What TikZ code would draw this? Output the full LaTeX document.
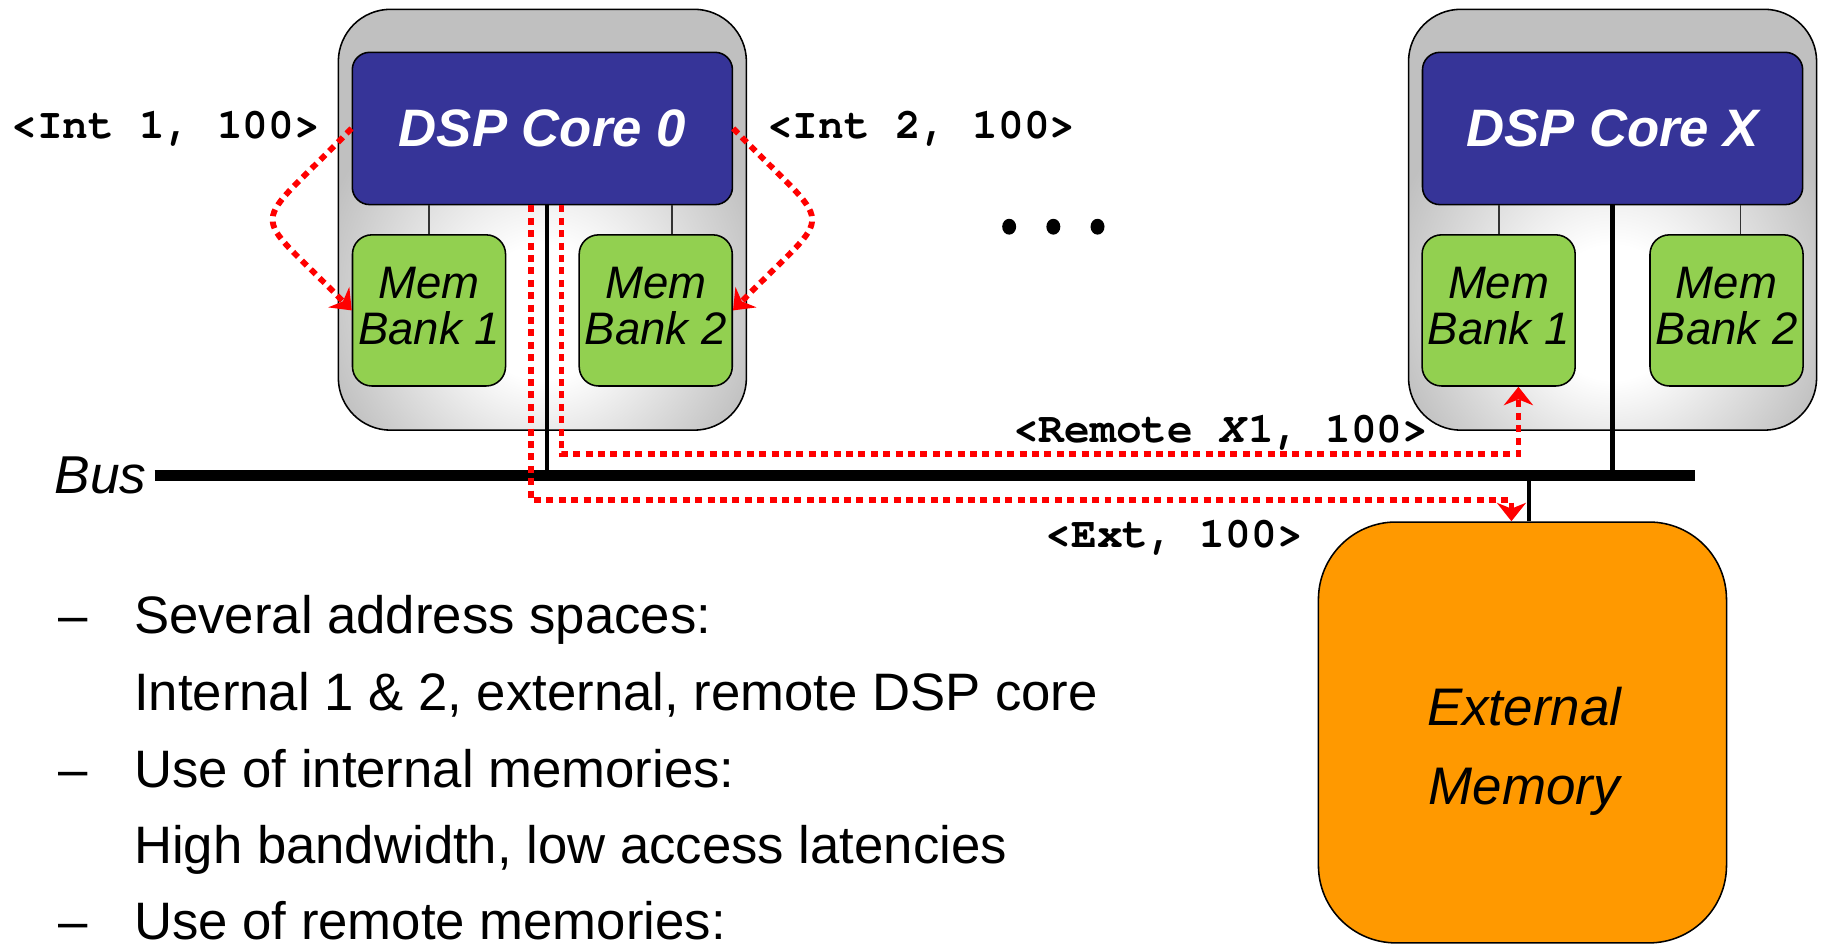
\documentclass[tikz,border=0pt]{standalone}
\usepackage{fontspec}
\setmainfont{Liberation Sans}
\newfontfamily\monob{TeX Gyre Cursor}
\usetikzlibrary{arrows.meta,calc}
\definecolor{coreblue}{RGB}{54,52,152}
\definecolor{bankgreen}{RGB}{146,208,80}
\definecolor{boxgray}{RGB}{192,192,192}
\definecolor{extorange}{RGB}{255,153,0}
\pgfdeclareradialshading{coreshade}{\pgfpoint{0bp}{-12bp}}{color(0bp)=(white); color(8bp)=(white); color(28bp)=(boxgray); color(100bp)=(boxgray)}
\tikzset{
  outerbox/.style={draw=black, line width=0.8pt, rounded corners=27pt, shading=coreshade, minimum width=210.6pt, minimum height=217.2pt, inner sep=0pt},
  corebox/.style={draw=black, line width=0.8pt, fill=coreblue, rounded corners=9pt, minimum width=196.2pt, minimum height=78.6pt, inner sep=0pt, text=white, font=\fontsize{27.2}{30}\selectfont\bfseries\itshape},
  bankbox/.style={draw=black, line width=0.8pt, fill=bankgreen, rounded corners=10pt, minimum width=79pt, minimum height=78pt, inner sep=0pt, align=center, text depth=5pt, font=\fontsize{23.5}{23.6}\selectfont\itshape},
  extbox/.style={draw=black, line width=0.8pt, fill=extorange, rounded corners=40pt, minimum width=210.6pt, minimum height=217.2pt, inner sep=0pt},
  exttext/.style={align=center, inner sep=0pt, font=\fontsize{27.3}{40.8}\selectfont\itshape},
  busline/.style={line width=5.2pt},
  stem/.style={line width=2.2pt},
  thinlink/.style={line width=1pt, draw=black!80},
  reddot/.style={draw=red, line width=3pt, dash pattern=on 3.6pt off 2.8pt},
  redtip/.style={-{Stealth[length=9.5pt,width=15pt,inset=3pt]}},
  lbl/.style={font=\monob\fontsize{22.1}{24}\selectfont\bfseries, inner sep=0pt},
  bullettext/.style={font=\fontsize{27.2}{30}\selectfont, anchor=base west, inner sep=0pt},
}
\begin{document}
\begin{tikzpicture}[x=0.6pt,y=-0.6pt]
\useasboundingbox (0,0) rectangle (1568,813);
% outer core boxes
\node[outerbox] (c0) at (466.5,189) {};
\node[outerbox] (cX) at (1387,189) {};
% DSP cores
\node[corebox] (p0) at (466.5,110.5) {DSP Core 0};
\node[corebox] (pX) at (1387,110.5) {DSP Core X};
% memory banks
\node[bankbox] (b01) at (369,267) {Mem\\Bank 1};
\node[bankbox] (b02) at (564,267) {Mem\\Bank 2};
\node[bankbox] (bX1) at (1289,267) {Mem\\Bank 1};
\node[bankbox] (bX2) at (1485,267) {Mem\\Bank 2};
% external memory
\node[extbox] (ext) at (1309.5,630) {};
\node[exttext] (exttxt) at (1311,646) {External\\Memory};
% thin links core -> banks
\draw[thinlink] (b01.north) -- (b01.north |- p0.south);
\draw[thinlink] ([xshift=8.4pt]b02.north) -- ([xshift=8.4pt]b02.north |- p0.south);
\draw[thinlink] (bX1.north) -- (bX1.north |- pX.south);
\draw[thinlink] ([xshift=7.2pt]bX2.north) -- ([xshift=7.2pt]bX2.north |- pX.south);
% bus
\coordinate (busL) at (133,409);
\coordinate (busR) at (1458,409);
\draw[busline] (busL) -- (busR);
\node[anchor=east, inner sep=4pt, font=\fontsize{27.5}{30}\selectfont\itshape] (buslbl) at (busL) {Bus};
% stems
\draw[stem] ([xshift=2.4pt]p0.south) -- ([xshift=2.4pt]p0.south |- busL);
\draw[stem] (pX.south) -- (pX.south |- busL);
\draw[stem] ([xshift=3.3pt]ext.north) -- ([xshift=3.3pt]ext.north |- busL);
% dots
\fill (868,195) ellipse [x radius=3.6pt, y radius=4.1pt];
\fill (906,195) ellipse [x radius=3.6pt, y radius=4.1pt];
\fill (944,195) ellipse [x radius=3.6pt, y radius=4.1pt];
% red access paths
\coordinate (extin) at ([xshift=-5.7pt]ext.north);
\coordinate (remin) at ([xshift=10.2pt]bX1.south);
\draw[reddot, redtip] ([xshift=-5.7pt]p0.south) |- ([yshift=10.8pt]extin) -- (extin);
\draw[reddot, redtip] ([xshift=9.9pt]p0.south) |- ([yshift=-34.8pt]remin) -- (remin);
\draw[reddot, redtip] (p0.west) .. controls (213,203) and (213,175) .. (b01.west);
\draw[reddot, redtip] (p0.east) .. controls (720,203) and (720,175) .. (b02.east);
% labels
\node[lbl] (lint1) at (142.5,111) {<Int 1, 100>};
\node[lbl] (lint2) at (792.5,111) {<Int 2, 100>};
\node[lbl] (lrem) at (1050,372) {<Remote \textit{X}1, 100>};
\node[lbl] (lext) at (1010,463) {<Ext, 100>};
% bullet text
\node[bullettext] (d1) at (50,545) {–};
\node[bullettext] (t1) at (115,545) {Several address spaces:};
\node[bullettext] (t2) at (115,611) {Internal 1 \& 2, external, remote DSP core};
\node[bullettext] (d3) at (50,677) {–};
\node[bullettext] (t3) at (115,677) {Use of internal memories:};
\node[bullettext] (t4) at (115,743) {High bandwidth, low access latencies};
\node[bullettext] (d5) at (50,808) {–};
\node[bullettext] (t5) at (115,808) {Use of remote memories:};
\end{tikzpicture}
\end{document}
